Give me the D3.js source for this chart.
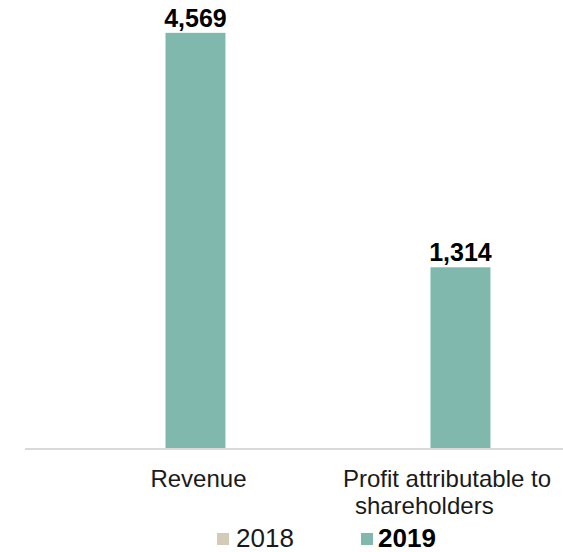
<!DOCTYPE html>
<html>
<head>
<meta charset="utf-8">
<script src="https://cdn.jsdelivr.net/npm/d3@7"></script>
<style>
  body { margin: 0; background: #fff; }
  svg { display: block; font-family: "Liberation Sans", Arial, sans-serif; }
</style>
</head>
<body>
<div id="chart"></div>
<script>
let width = 563;
let height = 552;
let margin = { top: 30, right: 0, bottom: 103, left: 33 };

// data
let categories = ["Revenue", "Profit attributable to shareholders"];
let labelLines = [["Revenue"], ["Profit attributable to", "shareholders"]];
let years = ["2018", "2019"];
let values2018 = [null, null];
let values2019 = [4569, 1314];
// each category is plotted against its own value axis
let axisMax = [4600, 3030];

let color = d3.scaleOrdinal()
  .domain(years)
  .range(["#d3cbb8", "#80b8ae"]);

let svg = d3.select("#chart")
  .append("svg")
  .attr("width", width)
  .attr("height", height);

let baseY = height - margin.bottom;

let x0 = d3.scaleBand()
  .domain(categories)
  .range([margin.left, width - margin.right])
  .padding(0);

let x1 = d3.scaleBand()
  .domain(years)
  .range([0, x0.bandwidth()])
  .paddingInner(0)
  .paddingOuter(1.21);

let yScales = categories.map((c, i) => d3.scaleLinear()
  .domain([0, axisMax[i]])
  .range([baseY, margin.top]));

let rows = [];
categories.forEach((c, i) => {
  rows.push({ cat: c, i, year: "2018", value: values2018[i] });
  rows.push({ cat: c, i, year: "2019", value: values2019[i] });
});
let drawn = rows.filter(d => d.value != null);

// bars
svg.append("g")
  .selectAll("rect")
  .data(drawn)
  .enter()
  .append("rect")
  .attr("x", d => x0(d.cat) + x1(d.year))
  .attr("y", d => yScales[d.i](d.value))
  .attr("width", x1.bandwidth())
  .attr("height", d => baseY - yScales[d.i](d.value))
  .attr("fill", d => color(d.year));

// value labels
svg.append("g")
  .selectAll("text")
  .data(drawn)
  .enter()
  .append("text")
  .attr("x", d => x0(d.cat) + x1(d.year) + x1.bandwidth() / 2)
  .attr("y", d => yScales[d.i](d.value) - 6)
  .attr("text-anchor", "middle")
  .attr("font-size", 25)
  .attr("font-weight", "bold")
  .attr("fill", "#000")
  .text(d => d3.format(",")(d.value));

// category axis line
svg.append("line")
  .attr("x1", 25)
  .attr("x2", width)
  .attr("y1", baseY)
  .attr("y2", baseY)
  .attr("stroke", "#d9d9d9")
  .attr("stroke-width", 2);

// category labels, centred under the 2019 bar and kept inside the chart
categories.forEach((c, i) => {
  let cx = x0(c) + x1("2019") + x1.bandwidth() / 2 + 3;
  let g = svg.append("g");
  let first = null;
  labelLines[i].forEach((line, k) => {
    let t = g.append("text")
      .attr("y", baseY + 38 + k * 27)
      .attr("font-size", 24)
      .attr("fill", "#1a1a1a")
      .text(line);
    let w = t.node().getComputedTextLength();
    let left;
    if (k === 0) {
      left = Math.min(cx - w / 2, width - 12 - w);
      first = left;
    } else {
      left = first + 12;
    }
    t.attr("x", left);
  });
});

// legend
let legend = svg.append("g")
  .attr("transform", `translate(217, ${height - 19})`);

let legendX = [0, 144];
years.forEach((yr, i) => {
  legend.append("rect")
    .attr("x", legendX[i])
    .attr("y", 0)
    .attr("width", 12)
    .attr("height", 12)
    .attr("fill", color(yr));

  legend.append("text")
    .attr("x", legendX[i] + (i === 0 ? 19 : 17))
    .attr("y", 14)
    .attr("font-size", 26)
    .attr("font-weight", i === 1 ? "bold" : "normal")
    .attr("fill", i === 1 ? "#000" : "#1a1a1a")
    .text(yr);
});
</script>
</body>
</html>
